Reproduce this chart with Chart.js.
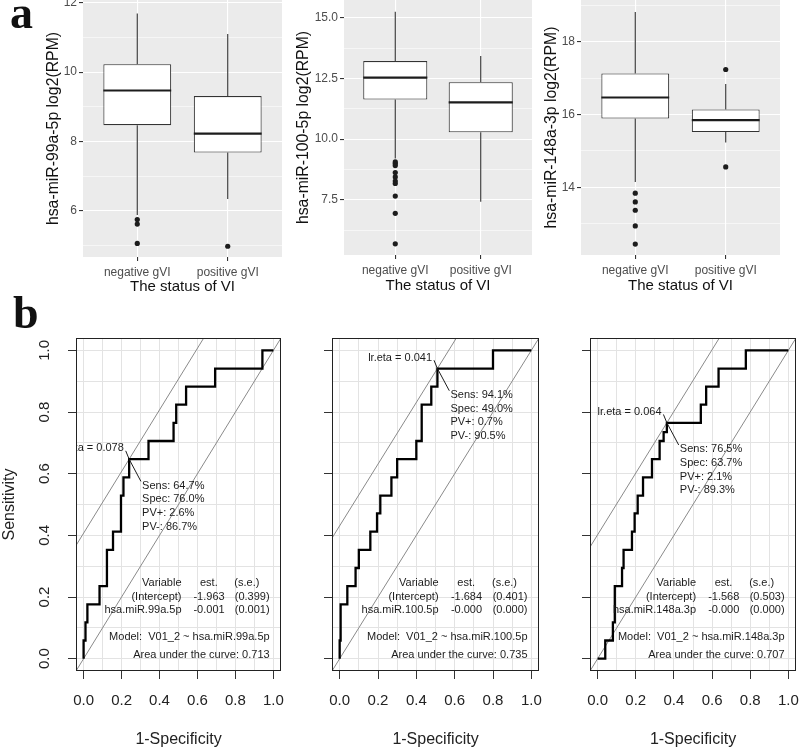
<!DOCTYPE html>
<html lang="en">
<head>
<meta charset="UTF-8">
<title>miRNA expression by VI status and ROC curves</title>
<script src="https://cdn.jsdelivr.net/npm/chart.js"></script>
<style>
  body { margin: 0; background: #fff; }
  #wrap { position: relative; width: 800px; height: 751px; overflow: hidden; }
  #wrap canvas { position: absolute; left: 0; top: 0; }
  .tag { position: absolute; z-index: 5; font-family: "Liberation Serif", "Times New Roman", serif;
         font-weight: bold; font-size: 46px; line-height: 1; color: #111; }
</style>
</head>
<body>
<div id="wrap">
  <canvas id="box1" width="800" height="751"></canvas>
  <canvas id="box2" width="800" height="751"></canvas>
  <canvas id="box3" width="800" height="751"></canvas>
  <canvas id="roc1" width="800" height="751"></canvas>
  <canvas id="roc2" width="800" height="751"></canvas>
  <canvas id="roc3" width="800" height="751"></canvas>
  <div class="tag" style="left:10px;top:-10px">a</div>
  <div class="tag" style="left:13px;top:290px">b</div>
</div>
<script>
// ---- panel a: boxplots ----
const groups = ['negative gVI', 'positive gVI'];
const yTitles = ['hsa-miR-99a-5p log2(RPM)', 'hsa-miR-100-5p log2(RPM)', 'hsa-miR-148a-3p log2(RPM)'];

const box1Ticks = ['6', '8', '10', '12'];
const box1Low = [5.88, 6.34];
const box1Q1 = [8.47, 7.68];
const box1Med = [9.47, 8.23];
const box1Q3 = [10.23, 9.31];
const box1High = [11.69, 11.10];
const box1Out = [[5.75, 5.62, 5.06], [4.98]];

const box2Ticks = ['7.5', '10.0', '12.5', '15.0'];
const box2Low = [9.2, 7.42];
const box2Q1 = [11.63, 10.28];
const box2Med = [12.54, 11.52];
const box2Q3 = [13.22, 12.35];
const box2High = [15.26, 13.43];
const box2Out = [[9.06, 8.99, 8.91, 8.62, 8.44, 8.27, 8.17, 7.65, 6.94, 5.68], []];

const box3Ticks = ['14', '16', '18'];
const box3Low = [14.15, 15.23];
const box3Q1 = [15.89, 15.52];
const box3Med = [16.47, 15.85];
const box3Q3 = [17.13, 16.14];
const box3High = [18.82, 16.84];
const box3Out = [[13.84, 13.6, 13.37, 12.94, 12.44], [17.24, 14.56]];

// ---- panel b: ROC curves (1-specificity of each vertical step, sensitivity at its top) ----
const rocTicks = ['0.0', '0.2', '0.4', '0.6', '0.8', '1.0'];
const statNames = ['Sens', 'Spec', 'PV+', 'PV-'];

const roc1Fpr = [0, 0.01, 0.02, 0.084, 0.123, 0.155, 0.197, 0.21, 0.24, 0.342, 0.474, 0.488, 0.54, 0.693, 0.942, 1];
const roc1Sens = [0.059, 0.118, 0.176, 0.235, 0.353, 0.412, 0.529, 0.588, 0.647, 0.706, 0.765, 0.824, 0.882, 0.941, 1, 1];
const roc1Stats = [64.7, 76.0, 2.6, 86.7];
const roc1Eta = 0.078;
const roc1Var = 'hsa.miR.99a.5p';
const roc1Est = ['-1.963', '-0.001'];
const roc1Se = ['0.399', '0.001'];
const roc1Auc = '0.713';

const roc2Fpr = [0, 0.005, 0.04, 0.083, 0.10, 0.16, 0.195, 0.212, 0.27, 0.30, 0.40, 0.428, 0.478, 0.51, 0.80, 1];
const roc2Sens = [0.059, 0.176, 0.235, 0.294, 0.353, 0.412, 0.471, 0.529, 0.588, 0.647, 0.706, 0.824, 0.882, 0.941, 1, 1];
const roc2Stats = [94.1, 49.0, 0.7, 90.5];
const roc2Eta = 0.041;
const roc2Var = 'hsa.miR.100.5p';
const roc2Est = ['-1.684', '-0.000'];
const roc2Se = ['0.401', '0.000'];
const roc2Auc = '0.735';

const roc3Fpr = [0.04, 0.08, 0.09, 0.128, 0.136, 0.18, 0.194, 0.21, 0.238, 0.285, 0.325, 0.346, 0.363, 0.541, 0.569, 0.634, 0.777, 1];
const roc3Sens = [0.059, 0.118, 0.235, 0.294, 0.353, 0.412, 0.471, 0.529, 0.588, 0.647, 0.706, 0.735, 0.765, 0.824, 0.882, 0.941, 1, 1];
const roc3Stats = [76.5, 63.7, 2.1, 89.3];
const roc3Eta = 0.064;
const roc3Var = 'hsa.miR.148a.3p';
const roc3Est = ['-1.568', '-0.000'];
const roc3Se = ['0.503', '0.000'];
const roc3Auc = '0.707';

const BOX_W = 0.75;
const ROC_LO = -0.04, ROC_HI = 1.04;
const INK = '#1c1c1c';

Chart.defaults.font.family = '"Liberation Sans", Arial, sans-serif';
Chart.defaults.animation = false;
Chart.defaults.events = [];
Chart.defaults.plugins.legend.display = false;
Chart.defaults.plugins.tooltip.enabled = false;

// major ticks from labels + minor half steps inside the range
function tickSet(labels, min, max) {
  const major = labels.map(Number);
  const step = major[1] - major[0];
  const vals = [];
  for (let v = major[0] - step; v <= major[major.length - 1] + step + 1e-9; v += step / 2) {
    const r = Math.round(v * 1e6) / 1e6;
    if (r >= min && r <= max) vals.push(r);
  }
  const idx = v => major.findIndex(m => Math.abs(m - v) < 1e-6);
  return { vals, idx };
}

// fixed axis size so every chart area lands where the panel is
const fix = (prop, size) => s => {
  s[prop] = size;
  s.paddingTop = s.paddingBottom = s.paddingLeft = s.paddingRight = 0;
};

const panelBg = {
  id: 'panelBg',
  beforeDraw(chart, args, opts) {
    const a = chart.chartArea, ctx = chart.ctx;
    ctx.save();
    ctx.fillStyle = opts.color;
    ctx.fillRect(a.left, a.top, a.width, a.height);
    ctx.restore();
  }
};

function whiskers(low, q1, q3, high) {
  const d = [];
  low.forEach((v, i) => {
    const x = i + 1;
    d.push({ x, y: q3[i] }, { x, y: high[i] }, { x, y: null }, { x, y: q1[i] }, { x, y: low[i] }, { x, y: null });
  });
  return d;
}

function medians(med) {
  const d = [];
  med.forEach((v, i) => d.push({ x: i + 1 - BOX_W / 2, y: v }, { x: i + 1 + BOX_W / 2, y: v }, { x: i + 1, y: null }));
  return d;
}

function outliers(out) {
  const d = [];
  out.forEach((list, i) => list.forEach(v => d.push({ x: i + 1, y: v })));
  return d;
}

function boxChart(id, p) {
  const t = tickSet(p.ticks, p.min, p.max);
  const isMajor = c => c.tick && t.idx(c.tick.value) >= 0;
  new Chart(document.getElementById(id), {
    type: 'bar',
    data: {
      datasets: [
        { type: 'scatter', data: outliers(p.out), pointRadius: 2.6, backgroundColor: INK, borderWidth: 0, order: 0 },
        { type: 'line', data: medians(p.med), borderColor: INK, borderWidth: 2.2, pointRadius: 0, spanGaps: false, order: 1 },
        { type: 'bar', data: p.q1.map((q, i) => ({ x: i + 1, y: [q, p.q3[i]] })), backgroundColor: '#fff',
          borderColor: '#333', borderWidth: 1.1, borderSkipped: false, barPercentage: BOX_W, categoryPercentage: 1, order: 2 },
        { type: 'line', data: whiskers(p.low, p.q1, p.q3, p.high), borderColor: '#333', borderWidth: 1.1,
          pointRadius: 0, spanGaps: false, order: 3 }
      ]
    },
    options: {
      responsive: false,
      layout: { padding: p.pad, autoPadding: false },
      scales: {
        x: {
          type: 'linear', min: 0.4, max: 2.6, offset: false, bounds: 'data',
          afterBuildTicks: s => { s.ticks = groups.map((g, i) => ({ value: i + 1 })); },
          afterFit: fix('height', 40),
          ticks: { callback: v => groups[Math.round(v) - 1], color: '#4D4D4D', font: { size: 12 }, padding: 4, maxRotation: 0, autoSkip: false },
          grid: { offset: false, color: '#fff', lineWidth: 1.1, tickColor: '#333', tickLength: 4, tickWidth: 1.1 },
          border: { display: false },
          title: { display: true, text: 'The status of VI', color: '#111', font: { size: 15 }, padding: { top: 0, bottom: p.xtPad } }
        },
        y: {
          type: 'linear', min: p.min, max: p.max, bounds: 'data', beginAtZero: false,
          afterBuildTicks: s => { s.ticks = t.vals.map(v => ({ value: v })); },
          afterFit: fix('width', p.yw),
          ticks: { callback: v => { const i = t.idx(v); return i >= 0 ? p.ticks[i] : ''; }, color: '#4D4D4D', font: { size: 12 }, padding: 2, autoSkip: false },
          grid: { color: '#fff', lineWidth: c => isMajor(c) ? 1.1 : 0.55,
                  tickColor: c => isMajor(c) ? '#333' : 'rgba(0,0,0,0)', tickLength: 4, tickWidth: 1.1 },
          border: { display: false },
          title: { display: true, text: p.title, color: '#111', font: { size: 15.8 }, padding: { top: p.ytPad, bottom: 0 } }
        }
      },
      plugins: { panelBg: { color: '#EBEBEB' } }
    },
    plugins: [panelBg]
  });
}

boxChart('box1', { ticks: box1Ticks, min: 4.67, max: 12.08, low: box1Low, q1: box1Q1, med: box1Med, q3: box1Q3, high: box1High, out: box1Out,
  title: yTitles[0], pad: { left: 43, top: 0, right: 518, bottom: 454 }, yw: 40, ytPad: 1.5, xtPad: 1 });
boxChart('box2', { ticks: box2Ticks, min: 5.22, max: 15.74, low: box2Low, q1: box2Q1, med: box2Med, q3: box2Q3, high: box2High, out: box2Out,
  title: yTitles[1], pad: { left: 294, top: 0, right: 268, bottom: 456 }, yw: 50, ytPad: 0, xtPad: 0 });
boxChart('box3', { ticks: box3Ticks, min: 12.14, max: 19.15, low: box3Low, q1: box3Q1, med: box3Med, q3: box3Q3, high: box3High, out: box3Out,
  title: yTitles[2], pad: { left: 541, top: 0, right: 20, bottom: 456 }, yw: 40, ytPad: 1.5, xtPad: 0 });

// ---- ROC panels ----
function stepPoints(fpr, sens) {
  const pts = [{ x: 0, y: 0 }];
  let prev = 0;
  fpr.forEach((x, i) => { pts.push({ x, y: prev }, { x, y: sens[i] }); prev = sens[i]; });
  return pts;
}

const rocFrame = {
  id: 'rocFrame',
  afterDatasetsDraw(chart, args, o) {
    const { ctx, chartArea: a, scales: { x, y } } = chart;
    const px = v => x.getPixelForValue(v), py = v => y.getPixelForValue(v);
    const cx = 1 - o.stats[1] / 100, cy = o.stats[0] / 100;
    ctx.save();
    ctx.beginPath();
    ctx.rect(a.left, a.top, a.width, a.height);
    ctx.clip();
    ctx.fillStyle = INK;
    ctx.strokeStyle = INK;
    ctx.lineWidth = 1;
    ctx.font = '11px "Liberation Sans", Arial, sans-serif';
    ctx.textBaseline = 'middle';
    ctx.beginPath();
    ctx.moveTo(px(cx - 0.018), py(cy + 0.027));
    ctx.lineTo(px(cx), py(cy));
    ctx.lineTo(px(cx + 0.062), py(cy - 0.072));
    ctx.stroke();
    ctx.textAlign = 'right';
    ctx.fillText('lr.eta = ' + o.eta.toFixed(3), px(cx - 0.028), py(cy + 0.035));
    ctx.textAlign = 'left';
    o.stats.forEach((s, i) => ctx.fillText(statNames[i] + ': ' + s.toFixed(1) + '%', px(cx + 0.068), py(cy - 0.086 - i * 0.0444)));
    // coefficient table
    const rowY = [0.247, 0.199, 0.157];
    ctx.textAlign = 'right';
    ctx.fillText('Variable', px(0.516), py(rowY[0]));
    ctx.fillText('(Intercept)', px(0.516), py(rowY[1]));
    ctx.fillText(o.name, px(0.516), py(rowY[2]));
    o.est.forEach((e, i) => ctx.fillText(e, px(0.743), py(rowY[i + 1])));
    o.se.forEach((e, i) => ctx.fillText('(' + e + ')', px(0.98), py(rowY[i + 1])));
    ctx.fillText('Model:  V01_2 ~ ' + o.name, px(0.98), py(0.069));
    ctx.fillText('Area under the curve: ' + o.auc, px(0.98), py(0.013));
    ctx.textAlign = 'center';
    ctx.fillText('est.', px(0.66), py(rowY[0]));
    ctx.fillText('(s.e.)', px(0.86), py(rowY[0]));
    ctx.restore();
    ctx.save();
    ctx.strokeStyle = '#222';
    ctx.lineWidth = 1;
    ctx.strokeRect(a.left + 0.5, a.top + 0.5, a.width - 1, a.height - 1);
    ctx.restore();
  }
};

function rocAxis(t, extra) {
  const isMajor = c => c.tick && t.idx(c.tick.value) >= 0;
  return Object.assign({
    type: 'linear', min: ROC_LO, max: ROC_HI, bounds: 'data',
    afterBuildTicks: s => { s.ticks = t.vals.map(v => ({ value: v })); },
    grid: { color: '#E3E3E3', lineWidth: 1, tickColor: c => isMajor(c) ? '#333' : 'rgba(0,0,0,0)', tickLength: 8, tickWidth: 1 },
    border: { display: false }
  }, extra);
}

function rocChart(id, p) {
  const t = tickSet(rocTicks, ROC_LO, ROC_HI);
  const label = v => { const i = t.idx(v); return i >= 0 ? rocTicks[i] : ''; };
  const shift = p.stats[0] / 100 - (1 - p.stats[1] / 100);
  const line = (data, color, w, order) => ({ data, showLine: true, borderColor: color, borderWidth: w, pointRadius: 0, order });
  new Chart(document.getElementById(id), {
    type: 'scatter',
    data: {
      datasets: [
        line(stepPoints(p.fpr, p.sens), '#000', 2.3, 0),
        line([{ x: ROC_LO, y: ROC_LO }, { x: ROC_HI, y: ROC_HI }], '#8a8a8a', 1, 1),
        line([{ x: ROC_LO, y: ROC_LO + shift }, { x: ROC_HI, y: ROC_HI + shift }], '#8a8a8a', 1, 1)
      ]
    },
    options: {
      responsive: false,
      layout: { padding: p.pad, autoPadding: false },
      scales: {
        x: rocAxis(t, {
          afterFit: fix('height', 80),
          ticks: { callback: label, color: '#222', font: { size: 15 }, padding: 13, maxRotation: 0, autoSkip: false },
          title: { display: true, text: '1-Specificity', color: '#222', font: { size: 16 }, padding: { top: 0, bottom: 2 } }
        }),
        y: rocAxis(t, {
          afterFit: fix('width', p.yw),
          ticks: { display: p.yLabels, callback: label, color: '#222', font: { size: 15 }, padding: 13,
                   minRotation: 90, maxRotation: 90, crossAlign: 'center', autoSkip: false },
          title: { display: p.yLabels, text: 'Sensitivity', color: '#222', font: { size: 16 }, padding: { top: 0, bottom: 0 } }
        })
      },
      plugins: { rocFrame: { stats: p.stats, eta: p.eta, name: p.name, est: p.est, se: p.se, auc: p.auc } }
    },
    plugins: [rocFrame]
  });
}

rocChart('roc1', { fpr: roc1Fpr, sens: roc1Sens, stats: roc1Stats, eta: roc1Eta, name: roc1Var, est: roc1Est, se: roc1Se, auc: roc1Auc,
  pad: { left: 0, top: 338, right: 519, bottom: 0 }, yw: 76, yLabels: true });
rocChart('roc2', { fpr: roc2Fpr, sens: roc2Sens, stats: roc2Stats, eta: roc2Eta, name: roc2Var, est: roc2Est, se: roc2Se, auc: roc2Auc,
  pad: { left: 300, top: 338, right: 261, bottom: 0 }, yw: 32, yLabels: false });
rocChart('roc3', { fpr: roc3Fpr, sens: roc3Sens, stats: roc3Stats, eta: roc3Eta, name: roc3Var, est: roc3Est, se: roc3Se, auc: roc3Auc,
  pad: { left: 558, top: 338, right: 4, bottom: 0 }, yw: 32, yLabels: false });
</script>
</body>
</html>
